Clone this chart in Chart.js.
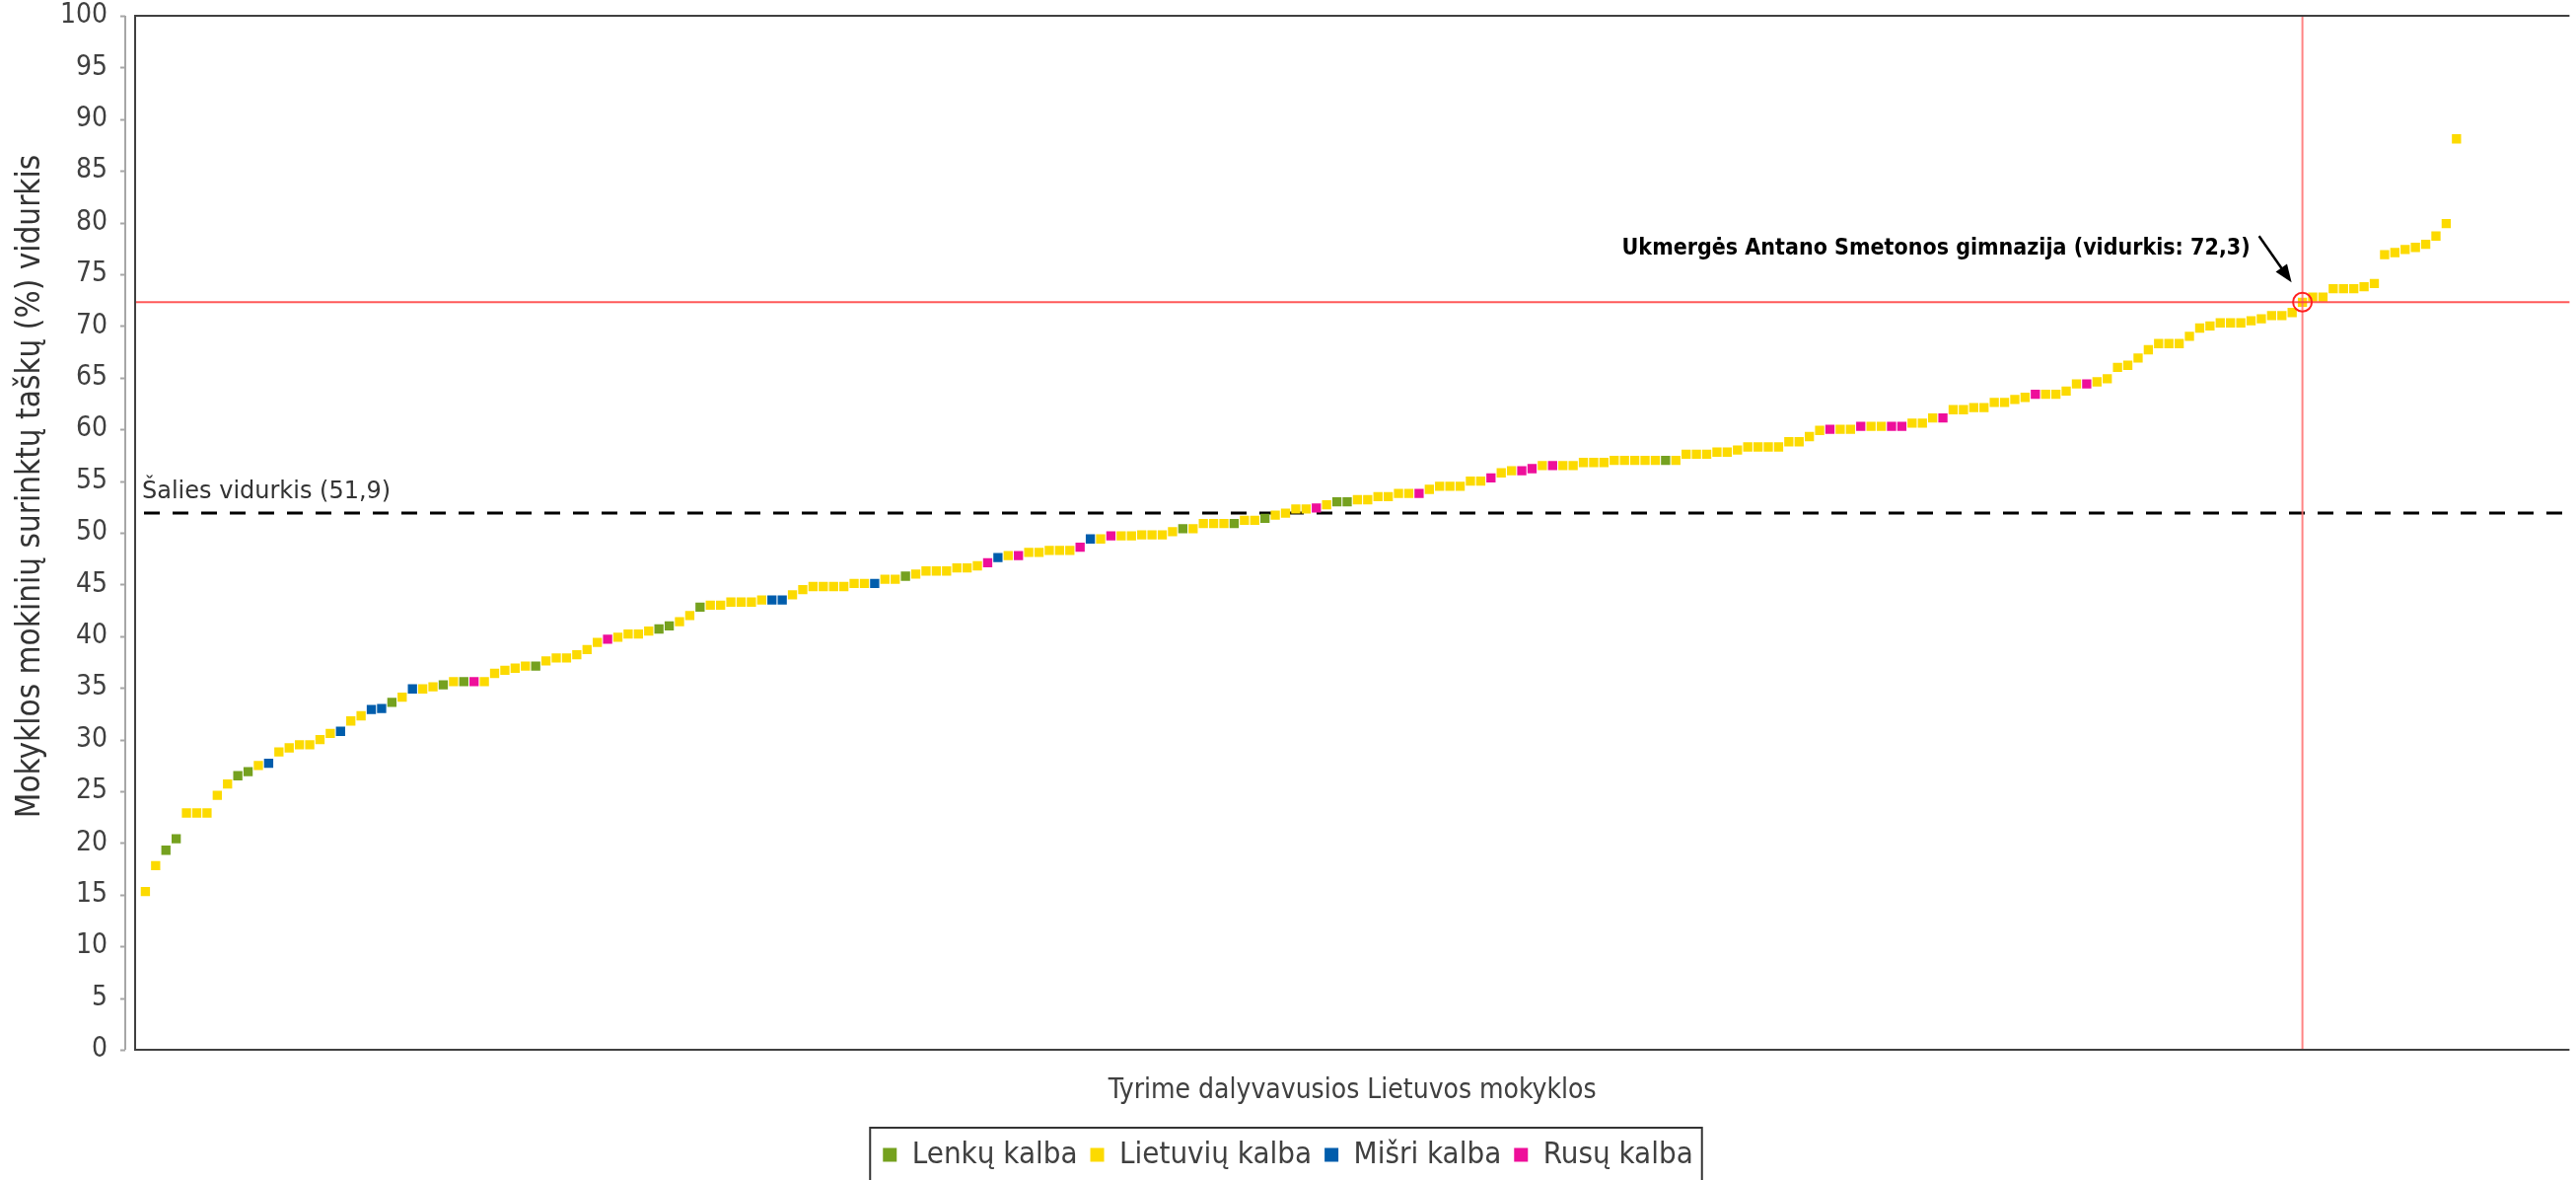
<!DOCTYPE html>
<html><head><meta charset="utf-8">
<script src="https://cdn.jsdelivr.net/npm/chart.js@4"></script>
<style>html,body{margin:0;padding:0;background:#fff;overflow:hidden}</style>
</head><body>
<canvas id="c" width="2612" height="1196" style="width:2612px;height:1196px;display:block"></canvas>
<script>
// ---- data ----
const schoolValues = [
15.3,17.8,19.3,20.4,22.9,22.9,22.9,24.6,25.7,26.5,
26.9,27.5,27.7,28.8,29.2,29.5,29.5,30.0,30.6,30.8,
31.8,32.3,32.9,33.0,33.6,34.1,34.9,34.9,35.1,35.3,
35.6,35.6,35.6,35.6,36.4,36.7,36.9,37.1,37.1,37.6,
37.9,37.9,38.2,38.7,39.4,39.7,39.9,40.2,40.2,40.5,
40.7,41.0,41.4,42.0,42.8,43.0,43.0,43.3,43.3,43.3,
43.5,43.5,43.5,44.0,44.5,44.8,44.8,44.8,44.8,45.1,
45.1,45.1,45.5,45.5,45.8,46.0,46.3,46.3,46.3,46.6,
46.6,46.8,47.1,47.6,47.8,47.8,48.1,48.1,48.3,48.3,
48.3,48.6,49.4,49.4,49.7,49.7,49.7,49.8,49.8,49.8,
50.1,50.4,50.4,50.9,50.9,50.9,50.9,51.2,51.2,51.4,
51.7,51.9,52.3,52.3,52.4,52.7,53.0,53.0,53.2,53.2,
53.5,53.5,53.8,53.8,53.8,54.2,54.5,54.5,54.5,55.0,
55.0,55.3,55.8,56.0,56.0,56.2,56.5,56.5,56.5,56.5,
56.8,56.8,56.8,57.0,57.0,57.0,57.0,57.0,57.0,57.0,
57.6,57.6,57.6,57.8,57.8,58.0,58.3,58.3,58.3,58.3,
58.8,58.8,59.3,59.9,60.0,60.0,60.0,60.3,60.3,60.3,
60.3,60.3,60.6,60.6,61.1,61.1,61.9,61.9,62.1,62.1,
62.6,62.6,62.9,63.1,63.4,63.4,63.4,63.7,64.4,64.4,
64.6,64.9,66.0,66.2,66.9,67.7,68.3,68.3,68.3,69.0,
69.8,70.0,70.3,70.3,70.3,70.5,70.7,71.0,71.0,71.3,
72.3,72.8,72.8,73.6,73.6,73.6,73.8,74.1,76.9,77.1,
77.4,77.6,77.9,78.7,79.9,88.1
];
// P = Lenkų, L = Lietuvių, X = Mišri, R = Rusų
const schoolLanguage = [
'L','L','P','P','L','L','L','L','L','P',
'P','L','X','L','L','L','L','L','L','X',
'L','L','X','X','P','L','X','L','L','P',
'L','P','R','L','L','L','L','L','P','L',
'L','L','L','L','L','R','L','L','L','L',
'P','P','L','L','P','L','L','L','L','L',
'L','X','X','L','L','L','L','L','L','L',
'L','X','L','L','P','L','L','L','L','L',
'L','L','R','X','L','R','L','L','L','L',
'L','R','X','L','R','L','L','L','L','L',
'L','P','L','L','L','L','P','L','L','P',
'L','L','L','L','R','L','P','P','L','L',
'L','L','L','L','R','L','L','L','L','L',
'L','R','L','L','R','R','L','R','L','L',
'L','L','L','L','L','L','L','L','P','L',
'L','L','L','L','L','L','L','L','L','L',
'L','L','L','L','R','L','L','R','L','L',
'R','R','L','L','L','R','L','L','L','L',
'L','L','L','L','R','L','L','L','L','R',
'L','L','L','L','L','L','L','L','L','L',
'L','L','L','L','L','L','L','L','L','L',
'L','L','L','L','L','L','L','L','L','L',
'L','L','L','L','L','L'
];
const languageCodes = ['P','L','X','R'];
const languageLabels = ['Lenkų kalba','Lietuvių kalba','Mišri kalba','Rusų kalba'];
const languageColors = ['#75A11F','#FCDA00','#005DAC','#EE0F9A'];
const nationalAverage = 51.9;
const nationalAverageLabel = 'Šalies vidurkis (51,9)';
const highlightSchool = 211;   // position on the x axis
const highlightValue = 72.3;
const highlightLabel = 'Ukmergės Antano Smetonos gimnazija (vidurkis: 72,3)';
const xAxisTitle = 'Tyrime dalyvavusios Lietuvos mokyklos';
const yAxisTitle = 'Mokyklos mokinių surinktų taškų (%) vidurkis';

const F = '"DejaVu Sans Condensed", "DejaVu Sans", sans-serif';
const FW = '"DejaVu Sans", sans-serif';

const datasets = languageCodes.map((code, k) => ({
  label: languageLabels[k],
  data: schoolValues.map((v, i) => ({x: i + 1, y: v})).filter((p, i) => schoolLanguage[i] === code),
  backgroundColor: languageColors[k],
  borderColor: languageColors[k],
  pointBackgroundColor: languageColors[k],
  pointBorderWidth: 0,
  borderWidth: 0,
  pointStyle: 'rect',
  pointRadius: 6.6,
  pointHoverRadius: 6.6
}));

const decor = {
  id: 'decor',
  beforeDatasetsDraw(chart) {
    const {ctx, chartArea: a, scales: {x, y}} = chart;
    ctx.save();
    // y axis line with outward ticks, offset from the plot frame
    ctx.strokeStyle = '#A6A6A6';
    ctx.lineWidth = 2;
    const ax = a.left - 10;
    ctx.beginPath();
    ctx.moveTo(ax, y.getPixelForValue(100));
    ctx.lineTo(ax, y.getPixelForValue(0));
    y.ticks.forEach(t => {
      const py = Math.round(y.getPixelForValue(t.value)) + 0.5;
      ctx.moveTo(ax - 5, py);
      ctx.lineTo(ax, py);
    });
    ctx.stroke();
    // y axis title
    ctx.save();
    ctx.translate(31, (y.top + y.bottom) / 2 - 47);
    ctx.rotate(-Math.PI / 2);
    ctx.fillStyle = '#333';
    ctx.font = '33px ' + F;
    ctx.textAlign = 'center';
    ctx.textBaseline = 'middle';
    ctx.fillText(yAxisTitle, 0, 0);
    ctx.restore();
    // national average dashed line
    const yAvg = y.getPixelForValue(nationalAverage);
    ctx.strokeStyle = '#000';
    ctx.lineWidth = 3;
    ctx.setLineDash([16, 13]);
    ctx.beginPath();
    ctx.moveTo(a.left + 9, yAvg);
    ctx.lineTo(a.right, yAvg);
    ctx.stroke();
    ctx.setLineDash([]);
    ctx.fillStyle = '#333';
    ctx.font = '24px ' + FW;
    ctx.textAlign = 'left';
    ctx.textBaseline = 'alphabetic';
    ctx.fillText(nationalAverageLabel, a.left + 7, yAvg - 15);
    ctx.restore();
  },
  afterDatasetsDraw(chart) {
    const {ctx, chartArea: a, scales: {x, y}} = chart;
    ctx.save();
    const px = x.getPixelForValue(highlightSchool);
    const py = y.getPixelForValue(highlightValue);
    ctx.lineWidth = 2;
    ctx.strokeStyle = 'rgba(255,110,110,0.85)';
    ctx.beginPath();
    ctx.moveTo(px, a.top); ctx.lineTo(px, a.bottom);
    ctx.stroke();
    ctx.strokeStyle = 'rgba(255,60,60,0.85)';
    ctx.beginPath();
    ctx.moveTo(a.left, py); ctx.lineTo(a.right, py);
    ctx.stroke();
    ctx.strokeStyle = '#FF2020';
    ctx.beginPath();
    ctx.arc(px, py, 9.5, 0, Math.PI * 2);
    ctx.stroke();
    // arrow
    const sx = px - 44, sy = py - 67, ex = px - 11, ey = py - 20;
    const ang = Math.atan2(ey - sy, ex - sx);
    ctx.strokeStyle = '#000'; ctx.fillStyle = '#000'; ctx.lineWidth = 2.5;
    ctx.beginPath();
    ctx.moveTo(sx, sy);
    ctx.lineTo(ex - 12 * Math.cos(ang), ey - 12 * Math.sin(ang));
    ctx.stroke();
    ctx.beginPath();
    ctx.moveTo(ex, ey);
    ctx.lineTo(ex - 18 * Math.cos(ang) + 7 * Math.sin(ang), ey - 18 * Math.sin(ang) - 7 * Math.cos(ang));
    ctx.lineTo(ex - 18 * Math.cos(ang) - 7 * Math.sin(ang), ey - 18 * Math.sin(ang) + 7 * Math.cos(ang));
    ctx.closePath();
    ctx.fill();
    // label
    ctx.font = 'bold 23px ' + F;
    ctx.textAlign = 'right';
    ctx.textBaseline = 'middle';
    ctx.fillText(highlightLabel, px - 53, py - 54);
    ctx.restore();
  },
  afterDraw(chart) {
    const {ctx, chartArea: a, legend} = chart;
    ctx.save();
    ctx.strokeStyle = '#404040';
    ctx.lineWidth = 2;
    ctx.beginPath();
    ctx.moveTo(a.right, a.top); ctx.lineTo(a.left, a.top);
    ctx.lineTo(a.left, a.bottom); ctx.lineTo(a.right, a.bottom);
    ctx.stroke();
    // legend frame
    const hb = legend.legendHitBoxes;
    if (hb && hb.length) {
      const l = Math.min(...hb.map(h => h.left)) - 13;
      const r = Math.max(...hb.map(h => h.left + h.width)) + 9;
      const t = hb[0].top - 12;
      ctx.strokeStyle = '#333';
      ctx.lineWidth = 2;
      ctx.strokeRect(l, t, r - l, chart.height + 10 - t);
    }
    ctx.restore();
  }
};

new Chart(document.getElementById('c'), {
  type: 'scatter',
  data: {datasets},
  options: {
    responsive: false,
    devicePixelRatio: 1,
    animation: false,
    events: [],
    layout: {padding: {top: 16, right: 0, left: 0, bottom: 0}},
    plugins: {
      legend: {
        position: 'bottom',
        labels: {boxWidth: 14, boxHeight: 14, padding: 13, color: '#404040', font: {size: 31, family: F}}
      },
      tooltip: {enabled: false}
    },
    scales: {
      x: {
        type: 'linear', min: 0, max: 237,
        ticks: {display: false},
        grid: {display: false, drawTicks: false},
        border: {display: false},
        title: {display: true, text: xAxisTitle, color: '#404040', font: {size: 28, family: F}, padding: {top: 0, bottom: 19}},
        afterFit(s) { s.height = 78; }
      },
      y: {
        min: 0, max: 100,
        ticks: {stepSize: 5, color: '#404040', padding: 3, font: {size: 28, family: F}},
        grid: {display: true, drawOnChartArea: false, drawTicks: true, tickLength: 25, color: 'rgba(0,0,0,0)'},
        border: {display: false},
        title: {display: false},
        afterFit(s) { s.width = 137; s.paddingTop = 0; s.paddingBottom = 0; }
      }
    }
  },
  plugins: [decor]
});
</script>
</body></html>
